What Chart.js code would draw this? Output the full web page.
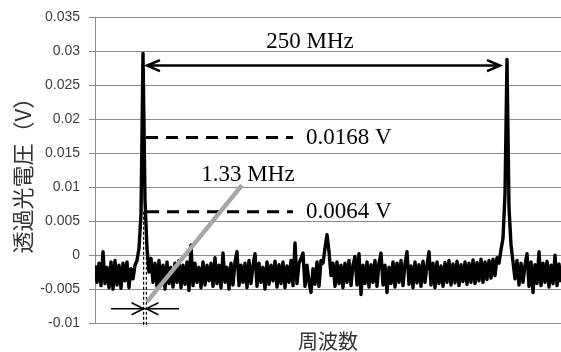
<!DOCTYPE html>
<html>
<head>
<meta charset="utf-8">
<script src="https://cdn.jsdelivr.net/npm/chart.js@4/dist/chart.umd.min.js"></script>
<style>
  body { margin: 0; background: #fff; }
  canvas { display: block; }
</style>
</head>
<body>
<canvas id="c" width="561" height="352"></canvas>
<script>
// y軸目盛り (V)
const yTicks = [-0.01, -0.005, 0, 0.005, 0.01, 0.015, 0.02, 0.025, 0.03, 0.035]

// 透過光電圧 (V)、サンプル番号順
const voltage = [
  -0.0015, -0.0040, -0.0012, -0.0045, 0.0005, -0.0042, -0.0018, -0.0048, -0.0010, -0.0050,
  -0.0008, -0.0044, -0.0015, -0.0049, -0.0012, -0.0038, -0.0010, -0.0048, -0.0020, -0.0035,
  -0.0015, -0.0008, 0.0010, 0.0060, 0.0297, 0.0080, 0.0010, -0.0025, -0.0005, -0.0040,
  -0.0012, -0.0046, -0.0008, -0.0044, -0.0015, -0.0050, -0.0010, -0.0042, -0.0018, -0.0047,
  -0.0012, -0.0040, -0.0008, -0.0048, -0.0015, -0.0043, -0.0010, -0.0052, 0.0015, -0.0045,
  -0.0012, -0.0040, -0.0018, -0.0048, -0.0010, -0.0044, -0.0015, -0.0038, -0.0012, -0.0046,
  -0.0004, -0.0042, -0.0015, -0.0048, 0.0003, -0.0040, -0.0018, -0.0050, -0.0012, -0.0044,
  -0.0010, 0.0005, -0.0045, -0.0015, -0.0040, -0.0012, -0.0048, -0.0008, -0.0042, -0.0015,
  0.0002, -0.0046, -0.0012, -0.0040, -0.0018, -0.0050, -0.0010, -0.0043, -0.0015, -0.0038,
  -0.0009, -0.0047, -0.0014, -0.0042, -0.0010, -0.0048, -0.0016, -0.0040, -0.0008, -0.0045,
  0.0018, -0.0042, -0.0012, -0.0005, 0.0003, -0.0046, -0.0015, -0.0040, -0.0055, -0.0020,
  -0.0043, -0.0010, -0.0046, -0.0008, -0.0012, 0.0010, 0.0030, 0.0005, -0.0030, -0.0012,
  -0.0046, -0.0010, -0.0042, -0.0015, -0.0048, -0.0012, -0.0040, -0.0008, -0.0045, -0.0015,
  -0.0002, -0.0044, 0.0002, -0.0058, -0.0015, -0.0042, -0.0010, -0.0047, -0.0014, -0.0040,
  -0.0008, -0.0046, -0.0012, 0.0003, -0.0044, -0.0015, -0.0055, -0.0018, -0.0042, -0.0010,
  -0.0047, -0.0012, -0.0040, -0.0008, -0.0045, -0.0013, 0.0005, -0.0043, -0.0016, -0.0048,
  -0.0010, -0.0041, -0.0014, -0.0046, -0.0009, -0.0040, -0.0015, 0.0005, -0.0044, -0.0012,
  -0.0048, -0.0010, -0.0042, -0.0016, -0.0046, -0.0011, -0.0040, -0.0008, -0.0044, -0.0013,
  -0.0041, -0.0009, -0.0045, -0.0014, -0.0039, -0.0010, -0.0043, -0.0012, -0.0040, -0.0007,
  -0.0042, -0.0011, -0.0038, -0.0006, -0.0040, -0.0010, -0.0036, -0.0008, -0.0034, -0.0006,
  -0.0030, -0.0004, -0.0012, 0.0008, 0.0025, 0.0090, 0.0288, 0.0070, 0.0015, -0.0010,
  -0.0035, -0.0008, -0.0044, -0.0012, -0.0040, -0.0015, 0.0002, -0.0046, -0.0010, -0.0055,
  -0.0014, -0.0042, 0.0005, -0.0045, -0.0012, -0.0040, -0.0009, -0.0047, -0.0015, -0.0042,
  0.0000, -0.0045, -0.0013, -0.0040
]
const samples = voltage.map((v, i) => i)

// 注釈 (データ座標)
const fsrArrow = { x0: 26, x1: 202.5, y: 0.0279, text: '250 MHz', tx: 107.5, ty: 0.0314 }
const levelLines = [
  { x0: 25.5, x1: 99, y: 0.0173, text: '0.0168 V', tx: 105.5 },
  { x0: 26, x1: 99, y: 0.0064, text: '0.0064 V', tx: 105.5 }
]
const widthPointer = { x0: 26, y0: -0.0069, x1: 73.5, y1: 0.0103, text: '1.33 MHz', tx: 76.5, ty: 0.0118 }
const widthMarks = { xa: 24.3, xb: 25.7, top: 0.0064, bottom: -0.0106, y: -0.0079, left: 8, right: 42 }

function arrowHead(ctx, x, y, dir, len, half) {
  ctx.beginPath()
  ctx.moveTo(x - dir * len, y - half)
  ctx.lineTo(x, y)
  ctx.lineTo(x - dir * len, y + half)
  ctx.stroke()
}

const notes = {
  id: 'notes',
  afterDatasetsDraw(chart) {
    const { ctx, scales: { x, y } } = chart
    const px = v => x.getPixelForValue(v)
    const py = v => y.getPixelForValue(v)
    ctx.save()
    ctx.strokeStyle = '#000'
    ctx.fillStyle = '#000'
    ctx.font = '23px "Liberation Serif", serif'

    // 250 MHz 両矢印
    ctx.lineWidth = 2.5
    ctx.beginPath()
    ctx.moveTo(px(fsrArrow.x0), py(fsrArrow.y))
    ctx.lineTo(px(fsrArrow.x1), py(fsrArrow.y))
    ctx.stroke()
    arrowHead(ctx, px(fsrArrow.x0), py(fsrArrow.y), -1, 13, 5.5)
    arrowHead(ctx, px(fsrArrow.x1), py(fsrArrow.y), 1, 13, 5.5)
    ctx.textAlign = 'center'
    ctx.textBaseline = 'middle'
    ctx.fillText(fsrArrow.text, px(fsrArrow.tx), py(fsrArrow.ty))

    // 破線レベル
    ctx.lineWidth = 3
    ctx.setLineDash([12, 8])
    levelLines.forEach(l => {
      ctx.beginPath()
      ctx.moveTo(px(l.x0), py(l.y))
      ctx.lineTo(px(l.x1), py(l.y))
      ctx.stroke()
    })
    ctx.setLineDash([])
    ctx.textAlign = 'left'
    levelLines.forEach(l => ctx.fillText(l.text, px(l.tx), py(l.y)))

    // 線幅の点線
    ctx.lineWidth = 1.2
    ctx.setLineDash([3, 2])
    ;[widthMarks.xa, widthMarks.xb].forEach(v => {
      ctx.beginPath()
      ctx.moveTo(px(v), py(widthMarks.top))
      ctx.lineTo(px(v), py(widthMarks.bottom))
      ctx.stroke()
    })
    ctx.setLineDash([])
    ctx.lineWidth = 1.5
    ctx.beginPath()
    ctx.moveTo(px(widthMarks.left), py(widthMarks.y))
    ctx.lineTo(px(widthMarks.right), py(widthMarks.y))
    ctx.stroke()
    arrowHead(ctx, px(widthMarks.xa), py(widthMarks.y), 1, 12, 6)
    arrowHead(ctx, px(widthMarks.xb), py(widthMarks.y), -1, 12, 6)

    // 1.33 MHz 引き出し線
    ctx.strokeStyle = '#a6a6a6'
    ctx.lineWidth = 4.5
    ctx.beginPath()
    ctx.moveTo(px(widthPointer.x0), py(widthPointer.y0))
    ctx.lineTo(px(widthPointer.x1), py(widthPointer.y1))
    ctx.stroke()
    ctx.textAlign = 'center'
    ctx.fillText(widthPointer.text, px(widthPointer.tx), py(widthPointer.ty))
    ctx.restore()
  }
}

new Chart(document.getElementById('c'), {
  type: 'line',
  data: {
    labels: samples,
    datasets: [{
      data: voltage.map((v, i) => ({ x: samples[i], y: v })),
      borderColor: '#000',
      borderWidth: 3.4,
      borderJoinStyle: 'round',
      pointRadius: 0,
      tension: 0
    }]
  },
  options: {
    responsive: false,
    animation: false,
    layout: { padding: { top: 17, right: 0, left: 0, bottom: 0 } },
    plugins: { legend: { display: false }, tooltip: { enabled: false } },
    scales: {
      x: {
        type: 'linear',
        min: 0,
        max: voltage.length - 1,
        grid: { display: false },
        border: { display: false },
        ticks: { display: false },
        title: {
          display: true,
          text: '周波数',
          color: '#333',
          font: { family: '"Noto Sans CJK JP"', size: 20, lineHeight: 1.1 },
          padding: { top: 0, bottom: 0 }
        },
        afterFit: s => { s.height = 29 }
      },
      y: {
        min: -0.01,
        max: 0.035,
        afterBuildTicks: s => { s.ticks = yTicks.map(v => ({ value: v })) },
        ticks: {
          color: '#404040',
          padding: 9,
          font: { family: '"Liberation Sans"', size: 14 },
          callback: v => String(v)
        },
        grid: { color: '#8c8c8c', lineWidth: 1, tickLength: 6 },
        border: { color: '#8c8c8c', width: 1 },
        title: {
          display: true,
          text: '透過光電圧（V）',
          color: '#333',
          font: { family: '"Noto Sans CJK JP"', size: 22, lineHeight: 1.2 },
          padding: { top: 9, bottom: 0 }
        },
        afterFit: s => { s.width = 95 }
      }
    }
  },
  plugins: [notes]
})
</script>
</body>
</html>
